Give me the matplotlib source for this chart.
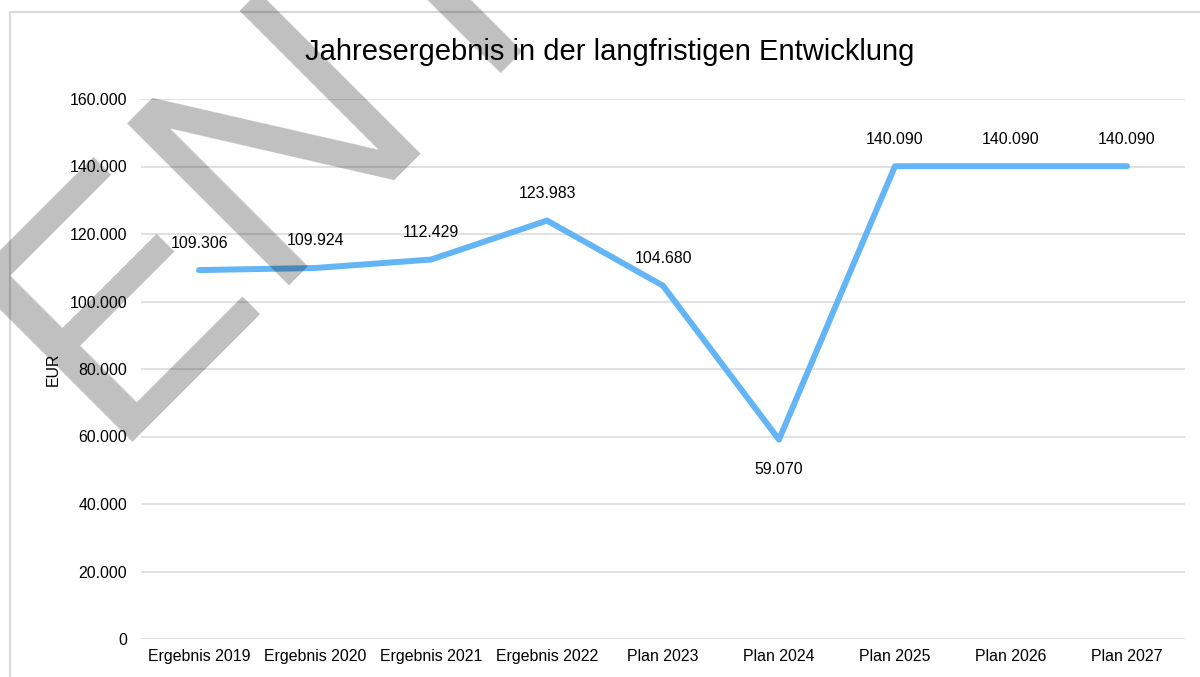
import matplotlib
matplotlib.use("Agg")
import matplotlib.pyplot as plt
from matplotlib.patches import Rectangle
from matplotlib.ticker import FuncFormatter, MultipleLocator

categories = ["Ergebnis 2019", "Ergebnis 2020", "Ergebnis 2021", "Ergebnis 2022",
              "Plan 2023", "Plan 2024", "Plan 2025", "Plan 2026", "Plan 2027"]
values = [109306, 109924, 112429, 123983, 104680, 59070, 140090, 140090, 140090]
label_below = [False, False, False, False, False, True, False, False, False]

title = "Jahresergebnis in der langfristigen Entwicklung"
y_label = "EUR"
watermark = "ENTWURF"

plt.rcParams['font.family'] = ['Liberation Sans', 'DejaVu Sans']

W, H = 1200, 677
fig = plt.figure(figsize=(W / 100, H / 100), dpi=100)
fig.patch.set_facecolor("white")

# chart border (cropped on the right/bottom)
fig.add_artist(Rectangle((10 / W, -0.1), 1.2, 1.1 - 12 / H, transform=fig.transFigure,
                         fill=False, edgecolor="#d9d9d9", lw=1.5))

ax = fig.add_axes([141 / W, 38 / H, 1044 / W, 540 / H])
ax.set_facecolor("none")
x = list(range(len(categories)))
ax.plot(x, values, color="#64b5f6", lw=4.3, solid_capstyle="round",
        solid_joinstyle="round", zorder=3, clip_on=False)

for xi, v, below in zip(x, values, label_below):
    s = f"{v:,.0f}".replace(",", ".")
    off = -21.5 if below else 19.5
    ax.annotate(s, (xi, v), xytext=(0, off), textcoords="offset points",
                ha="center", va="center", fontsize=11.4, color="black")

ax.set_xlim(-0.5, len(categories) - 0.5)
ax.set_ylim(0, 160000)
ax.yaxis.set_major_locator(MultipleLocator(20000))
ax.yaxis.set_major_formatter(FuncFormatter(lambda v, p: f"{v:,.0f}".replace(",", ".")))
ax.set_xticks(x)
ax.set_xticklabels(categories)
ax.tick_params(axis="both", length=0, labelsize=11.4, labelcolor="black")
ax.tick_params(axis="y", pad=10)
ax.tick_params(axis="x", pad=7)
ax.grid(axis="y", color="#d9d9d9", lw=1.1)
ax.set_axisbelow(True)
for sp in ax.spines.values():
    sp.set_visible(False)

ax.set_ylabel(y_label, fontsize=11.4, color="black")
ax.yaxis.set_label_coords((61 - 141) / 1044, 0.5)

fig.text(610 / W, 1 - 60 / H, title, ha="center", va="baseline", fontsize=21, color="black")

# watermark
fig.text(106 / W, 1 - 442 / H, watermark, rotation=45, rotation_mode="anchor",
         ha="left", va="baseline", fontsize=240, color="black", alpha=0.25, zorder=10)

fig.savefig("out.png", dpi=100)
